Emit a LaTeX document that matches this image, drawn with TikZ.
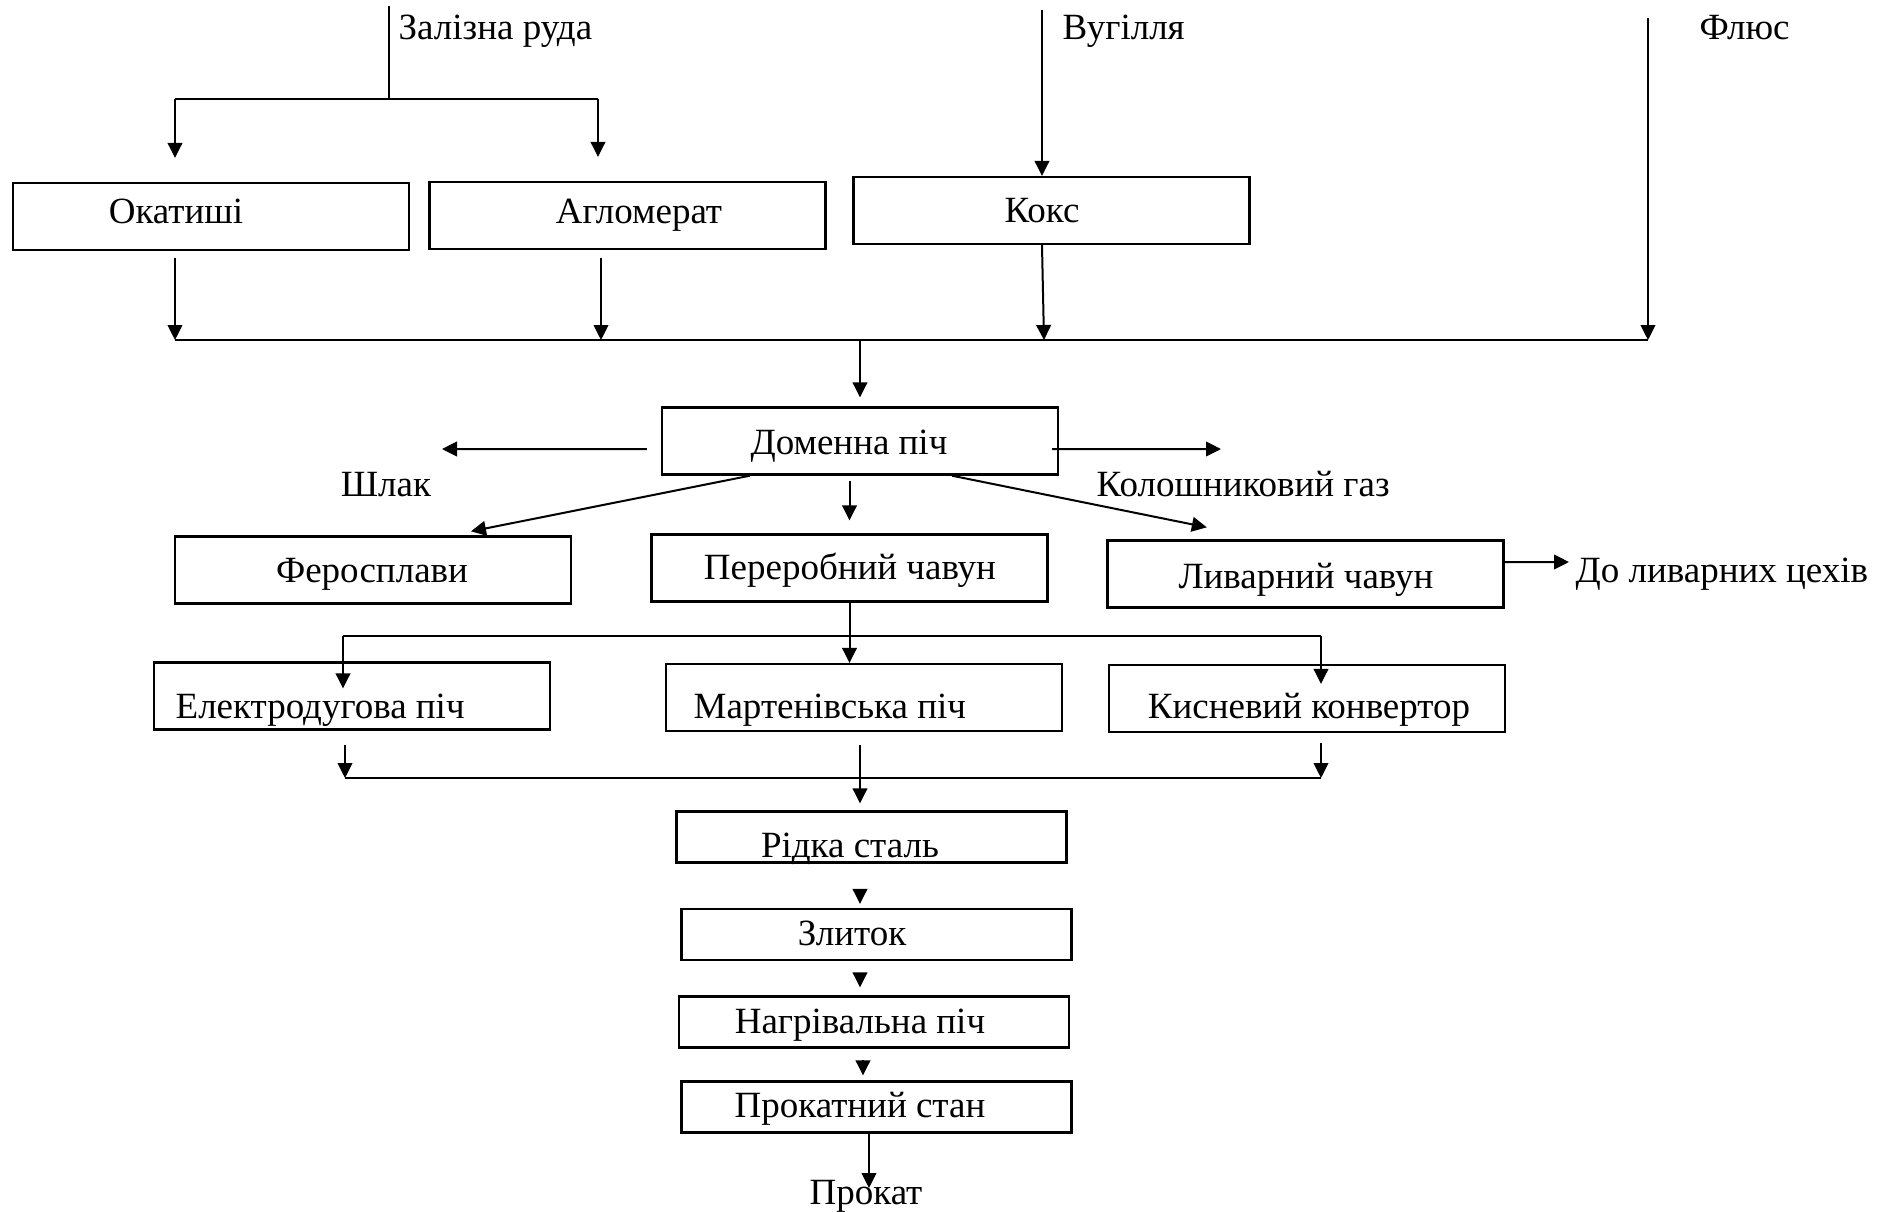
\documentclass[tikz,border=0pt]{standalone}
\usepackage{fontspec}
\setmainfont{Liberation Serif}
\usetikzlibrary{arrows.meta}
\tikzset{
    box/.style = {draw=black, line width=0.7pt, minimum width=118.8pt, minimum height=20.1pt, inner sep=0pt},
    lowbox/.style = {box, minimum width=117pt, minimum height=15.3pt},
    txt/.style = {inner sep=0pt, anchor=base, font=\fontsize{11.1}{13}\selectfont},
    wtxt/.style = {txt, anchor=base west},
    flow/.style = {->, line width=0.6pt},
    bus/.style = {-, line width=0.7pt}
}

\begin{document}
\begin{tikzpicture}[x=0.3pt, y=-0.3pt, >={Triangle[length=4.5pt, width=4.4pt]}]
    \useasboundingbox (0,0) rectangle (1892,1211);

    % boxes
    \node [box] (okat) at (211,216.5) {};
    \node [box] (aglo) at (627.5,215.5) {};
    \node [box] (koks) at (1051.5,210.5) {};
    \node [box] (domna) at (860,441) {};
    \node [box] (fero) at (373,570) {};
    \node [box] (pererob) at (849.5,568) {};
    \node [box] (lyvar) at (1305.5,574) {};
    \node [box] (elektro) at (352,696) {};
    \node [box] (marten) at (864,697.5) {};
    \node [box] (kysn) at (1307,698.5) {};
    \node [lowbox] (ridka) at (871.5,837) {};
    \node [lowbox] (zlytok) at (876.5,934.5) {};
    \node [lowbox] (nagriv) at (874,1022) {};
    \node [lowbox] (prokst) at (876.5,1107) {};

    % texts
    \node [wtxt] (ore-t) at (398,39) {Залізна руда};
    \node [wtxt] (coal-t) at (1062,39) {Вугілля};
    \node [wtxt] (flux-t) at (1699,39) {Флюс};
    \node [txt] (okat-t) at (176,223) {Окатиші};
    \node [txt] (aglo-t) at (639,223) {Агломерат};
    \node [txt] (koks-t) at (1042,222) {Кокс};
    \node [txt] (domna-t) at (849,454) {Доменна піч};
    \node [txt] (slag-t) at (386,496) {Шлак};
    \node [wtxt] (gas-t) at (1096,496) {Колошниковий газ};
    \node [txt] (fero-t) at (372,582) {Феросплави};
    \node [txt] (pererob-t) at (850,579) {Переробний чавун};
    \node [txt] (lyvar-t) at (1306,588) {Ливарний чавун};
    \node [wtxt] (cast-t) at (1575,582) {До ливарних цехів};
    \node [wtxt] (elektro-t) at (175,718) {Електродугова піч};
    \node [wtxt] (marten-t) at (693,718) {Мартенівська піч};
    \node [txt] (kysn-t) at (1309,718) {Кисневий конвертор};
    \node [txt] (ridka-t) at (850,857) {Рідка сталь};
    \node [txt] (zlytok-t) at (852,945) {Злиток};
    \node [txt] (nagriv-t) at (860,1033) {Нагрівальна піч};
    \node [txt] (prokst-t) at (860,1117) {Прокатний стан};
    \node [txt] (prokat-t) at (866,1204) {Прокат};

    % raw materials
    \coordinate (ore) at (389,6);
    \coordinate (oreL) at (175,99);
    \coordinate (oreR) at (598,99);
    \coordinate (coal) at (1042,10);
    \coordinate (flux) at (1648,18);
    \draw [bus] (ore) -- (ore |- oreL);
    \draw [bus] (oreL) -- (oreR);
    \draw [flow, shorten >=7.2pt] (oreL) -- (oreL |- okat.north);
    \draw [flow, shorten >=7.2pt] (oreR) -- (oreR |- aglo.north);
    \draw [flow] (coal) -- (coal |- koks.north);

    % charge
    \coordinate (busL) at (175,340);
    \coordinate (busA) at (601,340);
    \coordinate (busK) at (1044,340);
    \coordinate (busD) at (860,340);
    \coordinate (busR) at (1648,340);
    \draw [bus] (busL) -- (busR);
    \draw [flow, shorten <=2.1pt] (okat.south -| busL) -- (busL);
    \draw [flow, shorten <=2.4pt] (aglo.south -| busA) -- (busA);
    \draw [flow] (koks.south -| coal) -- (busK);
    \draw [flow] (flux) -- (busR);
    \draw [flow, shorten >=2.7pt] (busD) -- (domna.north);

    % blast furnace
    \coordinate (slag) at (442,449);
    \coordinate (gas) at (1221,449);
    \coordinate (cast) at (1569,562);
    \draw [flow] ([shift={(-4.2pt,-2.4pt)}]domna.west) -- (slag);
    \draw [flow] ([shift={(-2.1pt,-2.4pt)}]domna.east) -- (gas);
    \draw [flow] ([xshift=-33pt]domna.south) -- ([shift={(29.4pt,1.2pt)}]fero.north);
    \draw [flow] ([xshift=27.6pt]domna.south) -- ([shift={(-29.6pt,3.6pt)}]lyvar.north);
    \draw [flow, shorten <=1.5pt, shorten >=3.9pt] (domna.south -| pererob.north) -- (pererob.north);
    \draw [flow] ([yshift=3.6pt]lyvar.east) -- (cast);

    % steelmaking
    \coordinate (steelL) at (343,636);
    \coordinate (steelR) at (1321,636);
    \draw [bus] (steelL) -- (steelR);
    \draw [flow] (pererob.south) -- (pererob.south |- marten.north);
    \draw [flow] (steelL) -- ([yshift=-8.1pt]elektro.north -| steelL);
    \draw [flow] (steelR) -- ([yshift=-6pt]kysn.north -| steelR);

    \coordinate (mixL) at (345,778);
    \coordinate (mixC) at (860,778);
    \coordinate (mixR) at (1321,778);
    \draw [bus] (mixL) -- (mixR);
    \draw [flow, shorten <=4.2pt] (elektro.south -| mixL) -- (mixL);
    \draw [flow, shorten <=3pt] (kysn.south -| mixR) -- (mixR);
    \draw [flow, shorten <=3.9pt, shorten >=2.1pt] (marten.south -| mixC) -- (mixC |- ridka.north);

    % casting and rolling
    \coordinate (rollC) at (863,1058);
    \coordinate (prokat) at (869,1188);
    \draw [flow, shorten <=7.8pt, shorten >=1.2pt] (ridka.south -| mixC) -- (mixC |- zlytok.north);
    \draw [flow, shorten <=3.9pt, shorten >=2.4pt] (zlytok.south -| mixC) -- (mixC |- nagriv.north);
    \draw [flow, shorten <=3.3pt, shorten >=1.5pt] (nagriv.south -| rollC) -- (rollC |- prokst.north);
    \draw [flow] (prokst.south -| prokat) -- (prokat);
\end{tikzpicture}
\end{document}
